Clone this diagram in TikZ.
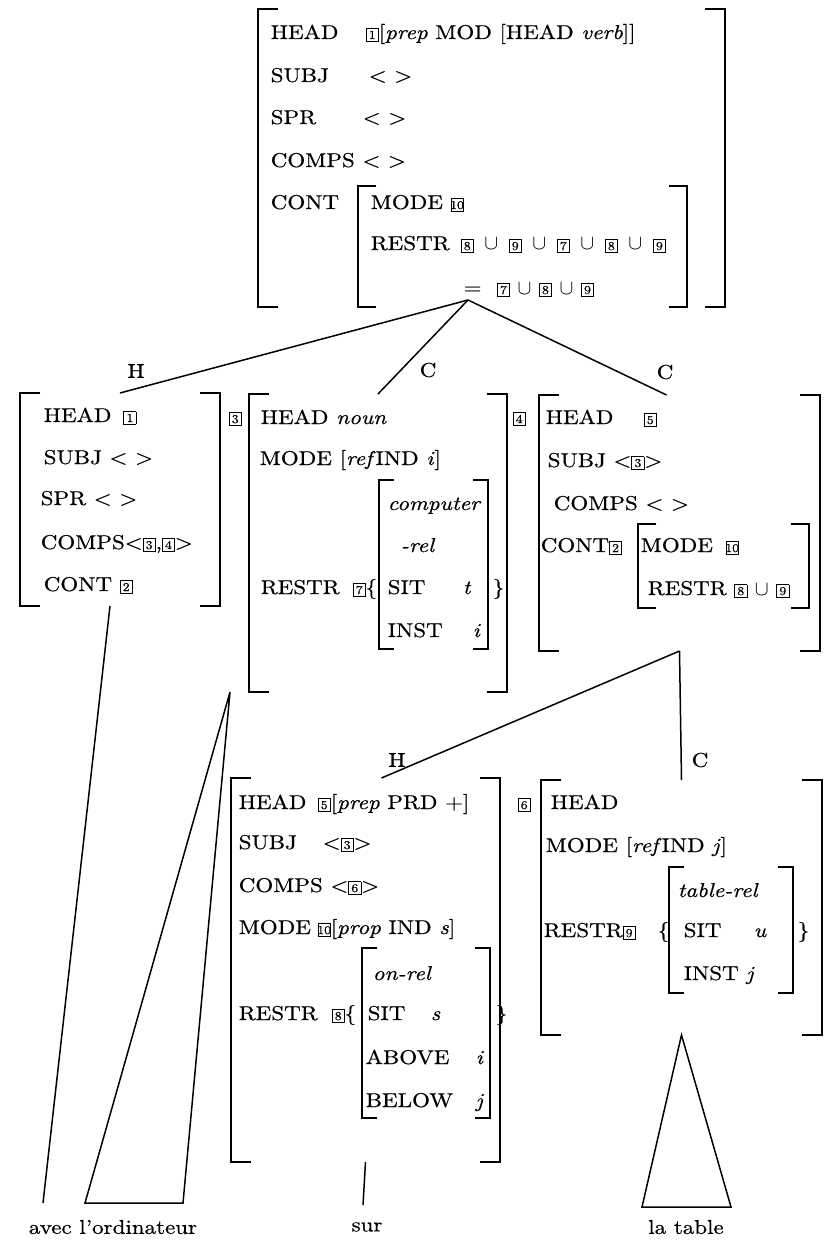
\documentclass[tikz,border=0pt]{standalone}
\usepackage{fontspec}
\setmainfont{lmroman10-regular.otf}[ItalicFont=lmroman10-italic.otf, FakeStretch=1.15, FakeBold=0.6]
\usepackage{tikz}
\usetikzlibrary{calc}

\newcommand{\tg}[1]{{\setlength{\fboxsep}{2pt}\setlength{\fboxrule}{0.7pt}\fbox{\fontsize{12}{12}\selectfont\makebox[7.5pt]{#1}}}}
\newcommand{\un}{\hspace{3pt} $\cup$ \hspace{3pt}}
\newcommand{\brackets}[2]{%
  \draw ([xshift=#2]#1.north west) -- (#1.north west) -- (#1.south west) -- ([xshift=#2]#1.south west);
  \draw ([xshift=-#2]#1.north east) -- (#1.north east) -- (#1.south east) -- ([xshift=-#2]#1.south east);}

\tikzset{
  txt/.style={anchor=base west, inner sep=0pt, font=\fontsize{20}{24}\selectfont},
  lbl/.style={inner sep=0pt, font=\fontsize{20}{24}\selectfont},
  frame/.style={rectangle, inner sep=0pt, outer sep=0pt, anchor=north west},
}

\begin{document}
\begin{tikzpicture}[x=1pt,y=-1pt,line width=1.5pt]
  \useasboundingbox (0,0) rectangle (830,1241);

  % mother
  \node[frame,minimum width=467pt,minimum height=298pt] (top) at (258,9) {};
  \node[frame,minimum width=329pt,minimum height=121pt] (topc) at (358,186) {};
  \brackets{top}{20pt}
  \brackets{topc}{18pt}
  \node[txt] (tHead) at (270,39) {HEAD};
  \node[txt] (tHeadV) at (365,39) {\tg{1}[\textit{prep} MOD [HEAD \textit{verb}]]};
  \node[txt] (tSubj) at (270,82) {SUBJ};
  \node[txt] (tSubjV) at (368,82) {< >};
  \node[txt] (tSpr) at (270,124) {SPR};
  \node[txt] (tSprV) at (362,124) {< >};
  \node[txt] (tComps) at (270,167) {COMPS < >};
  \node[txt] (tCont) at (270,209) {CONT};
  \node[txt] (tMode) at (370,209) {MODE \tg{10}};
  \node[txt] (tRestr) at (370,250) {RESTR};
  \node[txt] (tRestrV) at (460,250) {\tg{8}\un\tg{9}\un\tg{7}\un\tg{8}\un\tg{9}};
  \node[txt] (tEq) at (463,294) {=\ \ \tg{7} $\cup$ \tg{8} $\cup$ \tg{9}};

  % head daughter
  \node[frame,minimum width=200pt,minimum height=213pt] (lhs) at (20,393) {};
  \brackets{lhs}{20pt}
  \node[txt] (lHead) at (43,422) {HEAD\hspace{12pt}\tg{1}};
  \node[txt] (lSubj) at (43,464) {SUBJ < >};
  \node[txt] (lSpr) at (40,505) {SPR < >};
  \node[txt] (lComps) at (40,549) {COMPS<\tg{3},\tg{4}>};
  \node[txt] (lCont) at (43,591) {CONT \tg{2}};

  % first complement
  \node[txt] (tag3) at (228,423) {\tg{3}};
  \node[frame,minimum width=258pt,minimum height=298pt] (mid) at (249,394) {};
  \node[frame,minimum width=109pt,minimum height=169pt] (midc) at (379,480) {};
  \brackets{mid}{20pt}
  \brackets{midc}{15pt}
  \node[txt] (mHead) at (260,424) {HEAD \textit{noun}};
  \node[txt] (mMode) at (259,465) {MODE [\textit{ref}IND \textit{i}]};
  \node[txt] (mRel) at (387,510) {\textit{computer}};
  \node[txt] (mRel2) at (400,552) {\textit{-rel}};
  \node[txt] (mRestr) at (260,594) {RESTR};
  \node[txt] (mRestrV) at (352,594) {\tg{7}\{};
  \node[txt] (mSit) at (387,594) {SIT};
  \node[txt] (mSitV) at (462,594) {\textit{t}};
  \node[txt] (mClose) at (492,594) {\}};
  \node[txt] (mInst) at (387,637) {INST};
  \node[txt] (mInstV) at (472,637) {\textit{i}};

  % second complement
  \node[txt] (tag4) at (512,423) {\tg{4}};
  \node[frame,minimum width=281pt,minimum height=256pt] (rgt) at (539,395) {};
  \node[frame,minimum width=171pt,minimum height=84pt] (rgtc) at (638,524) {};
  \brackets{rgt}{20pt}
  \brackets{rgtc}{18pt}
  \node[txt] (rHead) at (545,424) {HEAD};
  \node[txt] (rHeadV) at (643,424) {\tg{5}};
  \node[txt] (rSubj) at (547,467) {SUBJ <\tg{3}>};
  \node[txt] (rComps) at (553,510) {COMPS < >};
  \node[txt] (rCont) at (540,552) {CONT\tg{2}};
  \node[txt] (rMode) at (640,552) {MODE};
  \node[txt] (rModeV) at (725,552) {\tg{10}};
  \node[txt] (rRestr) at (647,595) {RESTR \tg{8} $\cup$ \tg{9}};

  % head of the PP
  \node[frame,minimum width=269pt,minimum height=384pt] (sur) at (231,778) {};
  \node[frame,minimum width=128pt,minimum height=170pt] (surc) at (362,948) {};
  \brackets{sur}{20pt}
  \brackets{surc}{15pt}
  \node[txt] (sHead) at (238,809) {HEAD};
  \node[txt] (sHeadV) at (317,809) {\tg{5}[\textit{prep} PRD +]};
  \node[txt] (sSubj) at (238,849) {SUBJ};
  \node[txt] (sSubjV) at (322,849) {<\tg{3}>};
  \node[txt] (sComps) at (238,892) {COMPS <\tg{6}>};
  \node[txt] (sMode) at (238,934) {MODE};
  \node[txt] (sModeV) at (317,934) {\tg{10}[\textit{prop} IND \textit{s}]};
  \node[txt] (sRel) at (372,980) {\textit{on-rel}};
  \node[txt] (sRestr) at (238,1020) {RESTR};
  \node[txt] (sRestrV) at (331,1020) {\tg{8}\{};
  \node[txt] (sSit) at (367,1020) {SIT};
  \node[txt] (sSitV) at (430,1020) {\textit{s}};
  \node[txt] (sClose) at (495,1020) {\}};
  \node[txt] (sAbove) at (365,1064) {ABOVE};
  \node[txt] (sAboveV) at (475,1064) {\textit{i}};
  \node[txt] (sBelow) at (365,1107) {BELOW};
  \node[txt] (sBelowV) at (475,1107) {\textit{j}};

  % complement of the PP
  \node[txt] (tag6) at (517,809) {\tg{6}};
  \node[frame,minimum width=281pt,minimum height=255pt] (tab) at (541,780) {};
  \node[frame,minimum width=124pt,minimum height=126pt] (tabc) at (669,867) {};
  \brackets{tab}{20pt}
  \brackets{tabc}{15pt}
  \node[txt] (bHead) at (550,809) {HEAD};
  \node[txt] (bMode) at (545,852) {MODE [\textit{ref}IND \textit{j}]};
  \node[txt] (bRel) at (677,897) {\textit{table-rel}};
  \node[txt] (bRestr) at (543,937) {RESTR\tg{9}};
  \node[txt] (bOpen) at (657,937) {\{};
  \node[txt] (bSit) at (683,937) {SIT};
  \node[txt] (bSitV) at (753,937) {\textit{u}};
  \node[txt] (bClose) at (797,937) {\}};
  \node[txt] (bInst) at (683,980) {INST \textit{j}};

  % branches
  \coordinate (apex) at (468,300);
  \draw (apex) -- (lhs.north);
  \draw (apex) -- (mid.north);
  \draw (apex) -- ([xshift=-13pt]rgt.north);
  \draw (rgt.south) -- ([xshift=16pt]sur.north);
  \draw (rgt.south) -- (tab.north);
  \node[lbl] (h1) at (136,371) {H};
  \node[lbl] (c1) at (428,370) {C};
  \node[lbl] (c2) at (665,372) {C};
  \node[lbl] (h2) at (397,760) {H};
  \node[lbl] (c3) at (700,760) {C};

  % words
  \node[lbl] (avec) at (113,1227) {avec l'ordinateur};
  \node[lbl] (surw) at (367,1227) {sur};
  \node[lbl] (latable) at (686,1227) {la table};
  \coordinate (avecTop) at (43,1203);
  \coordinate (triL) at (85,1203);
  \coordinate (triR) at (183,1203);
  \coordinate (surTop) at (363,1205);
  \coordinate (tabL) at (642,1207);
  \coordinate (tabR) at (731,1207);
  \draw ([xshift=-10pt]lhs.south) -- (avecTop);
  \draw ([xshift=-19pt]mid.south west) -- (triL) -- (triR) -- cycle;
  \draw (sur.south) -- (surTop);
  \draw (tab.south) -- (tabL) -- (tabR) -- cycle;
\end{tikzpicture}
\end{document}
